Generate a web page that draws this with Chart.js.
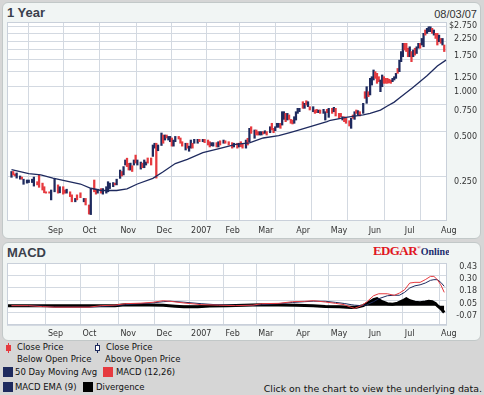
<!DOCTYPE html>
<html>
<head>
<meta charset="utf-8">
<script src="https://cdn.jsdelivr.net/npm/chart.js@4/dist/chart.umd.min.js"></script>
<style>
html,body{margin:0;padding:0;}
body{width:484px;height:395px;background:#d6d6d6;position:relative;overflow:hidden;font-family:"DejaVu Sans",sans-serif;}
.panel{position:absolute;left:2px;width:479px;background:#f1f5f4;border:1px solid #c2c8c8;border-radius:6px;box-sizing:border-box;}
#p1{top:2px;height:237px;}
#p2{top:242px;height:99px;}
canvas{position:absolute;left:0;}
#c1{top:0;}
#c2{top:240px;}
.t{position:absolute;white-space:nowrap;}
.title{font:bold 13px "Liberation Sans",Arial,sans-serif;color:#3a404c;line-height:13px;}
.leg{font-family:"DejaVu Sans",sans-serif;font-size:8.5px;line-height:10px;color:#111;}
.sq{position:absolute;width:10px;height:10px;}
</style>
</head>
<body>
<div class="panel" id="p1"></div>
<div class="panel" id="p2"></div>

<div class="t title" style="left:7px;top:5.5px;">1 Year</div>
<div class="t" style="right:7px;top:8.7px;font:11px 'Liberation Sans',Arial,sans-serif;line-height:11px;height:11px;color:#333;">08/03/07</div>
<div class="t title" style="left:7px;top:245.5px;">MACD</div>
<div class="t" style="left:373px;top:245px;width:76px;height:13px;overflow:hidden;font-size:0;line-height:12px;"><span style="font:bold 13px/12px 'Liberation Serif',serif;color:#e0161e;letter-spacing:-0.6px;">EDGAR</span><span style="font:bold 5px/5px 'Liberation Serif',serif;color:#e0161e;vertical-align:top;">&#174;</span><span style="font:bold 10px/10px 'Liberation Serif',serif;color:#1c2d6e;">Online</span></div>

<!-- legend -->
<div style="position:absolute;left:8px;top:343px;width:1px;height:10px;background:#e63a3f;"></div>
<div style="position:absolute;left:6px;top:345px;width:5px;height:6px;background:#e63a3f;"></div>
<div class="t leg" style="left:17px;top:342px;">Close Price</div>
<div class="t leg" style="left:17px;top:354px;">Below Open Price</div>
<div style="position:absolute;left:97px;top:343px;width:1px;height:10px;background:#1e2a5e;"></div>
<div style="position:absolute;left:95px;top:345px;width:3px;height:4px;background:#fff;border:1px solid #1e2a5e;"></div>
<div class="t leg" style="left:106px;top:342px;">Close Price</div>
<div class="t leg" style="left:105px;top:354px;">Above Open Price</div>
<div class="sq" style="left:3px;top:367px;background:#1e2a5e;"></div>
<div class="t leg" style="left:15px;top:367px;">50 Day Moving Avg</div>
<div class="sq" style="left:103px;top:367px;background:#e63a3f;"></div>
<div class="t leg" style="left:116px;top:367px;">MACD (12,26)</div>
<div class="sq" style="left:3px;top:382px;background:#1e2a5e;"></div>
<div class="t leg" style="left:15px;top:382px;">MACD EMA (9)</div>
<div class="sq" style="left:83px;top:382px;background:#000;"></div>
<div class="t leg" style="left:96px;top:382px;">Divergence</div>
<div class="t" style="right:2px;top:382.7px;font-size:9.4px;line-height:11px;color:#111;">Click on the chart to view the underlying data.</div>

<canvas id="c1" width="484" height="240"></canvas>
<canvas id="c2" width="484" height="100"></canvas>

<script>
// ---- x axis: trading-day index (0 = Aug 4 2006) ----
const monthLabels   = ['Sep','Oct','Nov','Dec','2007','Feb','Mar','Apr','May','Jun','Jul','Aug'];
const monthStartDay = [20,40,62,83,103,123,142,164,184,206,227,248];

// ---- price axis ----
const priceGrid     = [0.25,0.5,0.75,1,1.25,1.5,1.75,2,2.25,2.5,2.75];
const priceLabelled = [0.25,0.5,0.75,1,1.25,1.75,2.25,2.75];

// ---- daily bars (high/low), up = close above open ----
const barDay = [
  0,1,2,3,5,6,7,9,10,12,
  13,15,16,18,19,20,22,23,25,27,
  28,30,31,32,34,35,37,38,40,42,
  43,45,46,48,49,50,52,53,55,56,
  57,59,60,61,63,64,65,66,67,68,
  69,70,71,72,73,75,76,77,78,79,
  81,82,83,84,85,87,88,89,90,91,
  92,93,94,95,97,98,99,101,102,103,
  104,105,106,108,109,111,112,114,115,116,
  117,119,120,121,123,124,126,128,129,131,
  132,133,134,136,137,138,139,141,142,143,
  144,145,146,147,148,150,151,152,153,154,
  155,156,157,158,159,160,161,162,163,164,
  165,166,167,169,170,171,172,173,175,176,
  177,178,179,181,182,183,184,186,187,188,
  190,191,192,193,194,196,197,198,199,200,
  201,202,204,205,206,207,208,209,210,211,
  212,213,214,215,216,217,218,219,220,221,
  222,223,224,225,226,227,228,229,230,231,
  232,233,234,235,236,237,238,239,240,241,
  242,243,244,245,246,247,248,249,250,251
];
const barHigh = [
  .268,.268,.258,.262,.250,.246,.238,.235,.235,.238,
  .246,.229,.254,.224,.212,.196,.196,.2015,.241,.218,
  .212,.212,.2015,.204,.196,.187,.177,.187,.193,.177,
  .177,.160,.206,.235,.204,.204,.206,.206,.212,.229,
  .224,.226,.224,.238,.274,.268,.289,.320,.329,.304,
  .305,.293,.320,.345,.320,.310,.305,.320,.310,.330,
  .330,.403,.414,.414,.403,.485,.470,.470,.470,.460,
  .460,.449,.435,.460,.460,.449,.424,.414,.414,.396,
  .435,.414,.440,.440,.440,.440,.440,.435,.424,.418,
  .418,.418,.424,.430,.435,.430,.424,.418,.414,.414,
  .414,.424,.414,.435,.447,.521,.534,.508,.508,.495,
  .495,.495,.495,.502,.495,.534,.563,.521,.534,.563,
  .563,.563,.673,.673,.656,.656,.640,.598,.592,.623,
  .673,.709,.709,.785,.766,.797,.785,.727,.727,.691,
  .698,.691,.691,.698,.673,.698,.709,.709,.720,.709,
  .656,.656,.623,.623,.608,.586,.608,.640,.673,.691,
  .684,.673,.766,.916,.989,.916,1.125,1.154,1.28,1.247,
  1.216,1.154,1.097,1.185,1.154,1.125,1.125,1.11,1.097,1.125,
  1.154,1.216,1.31,1.49,1.70,1.93,1.93,1.93,1.79,1.83,
  1.70,1.74,1.79,1.83,1.93,1.93,2.08,2.25,2.37,2.43,
  2.49,2.49,2.43,2.37,2.25,2.25,2.19,2.08,2.08,1.88
];
const barLow = [
  .245,.254,.250,.242,.238,.238,.220,.224,.226,.226,
  .214,.218,.210,.2015,.193,.192,.192,.173,.196,.192,
  .193,.189,.192,.192,.182,.168,.168,.173,.179,.168,
  .160,.139,.138,.196,.189,.192,.192,.189,.192,.196,
  .206,.212,.218,.218,.241,.250,.254,.296,.289,.274,
  .274,.268,.296,.305,.296,.278,.284,.284,.296,.305,
  .296,.338,.384,.242,.369,.400,.414,.435,.449,.435,
  .424,.396,.396,.424,.442,.414,.396,.373,.384,.366,
  .384,.384,.414,.414,.424,.424,.418,.403,.391,.398,
  .396,.391,.391,.403,.414,.414,.403,.384,.391,.384,
  .391,.393,.384,.384,.403,.424,.482,.447,.470,.470,
  .470,.470,.477,.482,.470,.487,.508,.487,.502,.529,
  .529,.521,.548,.598,.577,.592,.598,.563,.557,.563,
  .592,.656,.673,.709,.709,.746,.727,.691,.673,.656,
  .663,.663,.656,.656,.592,.663,.617,.656,.673,.630,
  .608,.623,.592,.577,.563,.540,.521,.608,.598,.656,
  .640,.630,.656,.827,.766,.848,.871,1.015,1.097,1.125,
  1.042,1.069,.916,.989,1.042,1.042,1.042,1.05,1.042,1.069,
  1.097,1.125,1.216,1.247,1.455,1.57,1.74,1.70,1.57,1.57,
  1.455,1.57,1.61,1.65,1.79,1.79,1.88,1.83,2.19,2.25,
  2.31,2.31,2.25,2.19,2.08,1.88,1.98,1.93,1.88,1.70
];
const barUp = [
  1,0,0,1,1,0,1,1,1,1,
  1,0,0,0,0,0,0,1,1,0,
  1,0,0,1,0,0,1,0,0,1,
  0,0,1,0,0,1,0,1,1,1,
  1,1,0,1,1,0,1,1,0,0,
  1,0,1,0,1,1,0,1,1,0,
  0,1,1,0,1,1,0,1,0,1,
  1,0,1,1,0,0,0,1,0,1,
  1,0,1,1,0,1,0,0,0,1,
  1,0,1,0,1,0,0,0,1,0,
  1,0,0,1,0,1,0,1,0,0,
  1,1,0,1,0,1,0,0,1,1,
  1,0,1,1,0,1,0,0,0,1,
  1,1,1,0,1,0,1,0,1,0,
  0,1,0,1,1,0,1,0,1,0,
  0,0,1,0,0,0,1,0,1,0,
  1,0,1,0,1,0,1,1,1,0,
  0,0,1,1,0,0,0,0,0,1,
  1,1,0,1,1,1,0,0,0,1,
  0,1,0,1,1,0,1,1,0,1,
  1,1,0,1,0,0,1,0,1,0
];

// ---- 50 day moving average ----
const maDay   = [0,10,17,24,40,46,52,61,67,73,82,88,95,102,111,121,130,138,146,155,162,166,183,185,194,204,208,214,218,222,225,233,241,247,252];
const maValue = [0.276,0.259,0.254,0.242,0.221,0.207,0.2,0.2,0.205,0.221,0.241,0.267,0.303,0.323,0.358,0.383,0.407,0.417,0.449,0.465,0.49,0.505,0.577,0.59,0.617,0.64,0.656,0.69,0.735,0.78,0.83,0.98,1.17,1.36,1.49];

// ---- MACD panel ----
const macdGrid   = [-0.195,-0.07,0.055,0.18,0.305,0.43];
const macdLabels = ['', '-0.07', '0.05', '0.18', '0.30', '0.43'];
const macdDay    = [0,10,18,25,35,45,52,60,66,75,82,88,92,100,110,120,130,140,145,155,163,170,175,182,188,193,197,199,203,206,210,213,218,222,225,228,231,234,237,240,243,245,247,249,251];
const macdLine   = [0,0,-0.01,-0.015,-0.015,-0.015,0,0.005,0.02,0.025,0.034,0.05,0.044,0.027,0.01,0.005,0,0.005,0.02,0.023,0.04,0.044,0.05,0.037,0.023,0.01,-0.017,-0.027,0,0.037,0.10,0.12,0.12,0.104,0.127,0.16,0.228,0.235,0.235,0.262,0.295,0.295,0.262,0.21,0.134];
const signalLine = [0,0,-0.005,-0.015,-0.015,-0.015,-0.008,0,0.01,0.02,0.028,0.04,0.045,0.035,0.02,0.008,0.003,0.003,0.01,0.02,0.032,0.04,0.045,0.044,0.033,0.022,0.01,0.005,0,0.008,0.04,0.07,0.1,0.105,0.105,0.134,0.178,0.2,0.21,0.228,0.255,0.262,0.262,0.235,0.195];
const divDay     = [-2,60,66,80,88,95,100,108,115,125,145,165,175,182,190,197,200,204,207,210,212,215,218,221,224,227,229,231,234,237,240,242,244,246,247,249,251];
const divValue   = [0,0,0.008,0.006,0.005,-0.005,-0.012,-0.01,-0.003,0,0.008,0.005,0,-0.008,-0.012,-0.018,-0.015,0,0.03,0.06,0.07,0.04,0.02,0.015,0.025,0.05,0.07,0.05,0.035,0.03,0.038,0.045,0.04,0.02,0,-0.03,-0.07];

const NAVY = '#1e2a5e', RED = '#e63a3f', GRID = '#d3d9e1', TXT = '#333333';
const tickFont = {family:'DejaVu Sans', size:8};

const framePlugin = {
  id:'frame',
  beforeDraw(c){
    const a=c.chartArea, x=c.ctx;
    x.save(); x.fillStyle='#ffffff';
    x.fillRect(a.left,a.top,a.right-a.left,a.bottom-a.top); x.restore();
  },
  beforeDatasetsDraw(c){
    const a=c.chartArea, x=c.ctx;
    x.save(); x.strokeStyle='#c9d0da'; x.lineWidth=1;
    x.strokeRect(Math.round(a.left)+0.5, Math.round(a.top)+0.5, Math.round(a.right-a.left)-1, Math.round(a.bottom-a.top)-1);
    x.restore();
  }
};

function labelFor(values, labels){
  return v => { const k = values.findIndex(g => Math.abs(g - v) < 1e-6); return k >= 0 ? labels[k] : ''; };
}

function xAxis(h, pad){
  return {
    type:'linear', min:-2.6, max:252.6, offset:false,
    afterBuildTicks: s => { s.ticks = monthStartDay.map(v => ({value:v})); },
    afterFit: s => { s.height = h; },
    ticks:{ callback: labelFor(monthStartDay, monthLabels), autoSkip:false, maxRotation:0, minRotation:0,
            align:'start', labelOffset:2, padding:pad, color:TXT, font:tickFont },
    grid:{ color:GRID, drawTicks:false, lineWidth:1 },
    border:{ display:false }
  };
}

new Chart(document.getElementById('c1'), {
  type:'bar',
  data:{ datasets:[
    { type:'line', data: maDay.map((d,i)=>({x:d, y:maValue[i]})), borderColor:NAVY, borderWidth:1.3,
      pointRadius:0, tension:0, order:0 },
    { type:'bar', data: barDay.map((d,i)=>({x:d, y:[barLow[i], barHigh[i]]})),
      backgroundColor: barUp.map(u => u ? NAVY : RED), borderWidth:0, barThickness:1.6, grouped:false, order:1 }
  ]},
  options:{
    responsive:false, animation:false, events:[],
    layout:{ padding:{left:7, top:22, right:7, bottom:0}, autoPadding:false },
    plugins:{ legend:{display:false}, tooltip:{enabled:false} },
    scales:{
      x: xAxis(19, 5),
      y: {
        type:'logarithmic', position:'right', min:0.125, max:2.68,
        afterBuildTicks: s => { s.ticks = priceGrid.map(v => ({value:v})); },
        afterFit: s => { s.width = 30; },
        ticks:{ callback: v => priceLabelled.includes(v) ? (v===2.75 ? '$2.750' : Number(v).toFixed(3)) : '',
                autoSkip:false, crossAlign:'far', labelOffset:6, padding:2, color:TXT, font:tickFont },
        grid:{ color: ctx => (ctx.tick && ctx.tick.value > 2.7) ? 'rgba(0,0,0,0)' : GRID, drawTicks:false },
        border:{ display:false }
      }
    }
  },
  plugins:[framePlugin]
});

new Chart(document.getElementById('c2'), {
  type:'line',
  data:{ datasets:[
    { data: macdDay.map((d,i)=>({x:d, y:macdLine[i]})), borderColor:RED, borderWidth:1, pointRadius:0, order:0 },
    { data: macdDay.map((d,i)=>({x:d, y:signalLine[i]})), borderColor:NAVY, borderWidth:1, pointRadius:0, order:1 },
    { data: divDay.map((d,i)=>({x:d, y:divValue[i]})), borderColor:'#000', backgroundColor:'#000', borderWidth:3,
      fill:'origin', pointRadius:0, order:2 }
  ]},
  options:{
    responsive:false, animation:false, events:[],
    layout:{ padding:{left:7, top:23, right:7, bottom:0}, autoPadding:false },
    plugins:{ legend:{display:false}, tooltip:{enabled:false} },
    scales:{
      x: xAxis(15, 4),
      y: {
        type:'linear', min:-0.195, max:0.43,
        position:'right',
        afterBuildTicks: s => { s.ticks = macdGrid.map(v => ({value:v})); },
        afterFit: s => { s.width = 30; },
        ticks:{ callback: labelFor(macdGrid, macdLabels), autoSkip:false, crossAlign:'far', labelOffset:3.5, padding:1,
                color:TXT, font:tickFont },
        grid:{ color:GRID, drawTicks:false },
        border:{ display:false }
      }
    }
  },
  plugins:[framePlugin]
});
</script>
</body>
</html>
